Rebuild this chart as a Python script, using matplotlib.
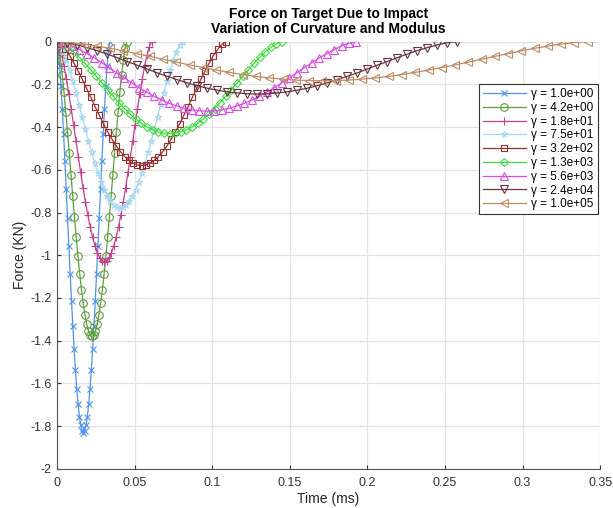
import numpy as np
import matplotlib
matplotlib.use("Agg")
import matplotlib.pyplot as plt

plt.rcParams['font.family'] = ['Liberation Sans', 'DejaVu Sans']

# curve labels (gamma), end times of contact (ms) and force samples (kN)
gammas = ['1.0e+00', '4.2e+00', '1.8e+01', '7.5e+01', '3.2e+02',
          '1.3e+03', '5.6e+03', '2.4e+04', '1.0e+05']
t_end = [0.034, 0.045, 0.061, 0.081, 0.109, 0.145, 0.193, 0.258, 0.342]

f1 = [0, -0.040, -0.113, -0.206, -0.314, -0.433, -0.560, -0.691, -0.825, -0.958, -1.088,
      -1.213, -1.332, -1.441, -1.539, -1.625, -1.697, -1.755, -1.796, -1.822, -1.830,
      -1.822, -1.796, -1.755, -1.697, -1.625, -1.539, -1.441, -1.332, -1.213, -1.088,
      -0.958, -0.825, -0.691, -0.560, -0.433, -0.314, -0.206, -0.113, -0.040, 0]
f2 = [0, -0.030, -0.085, -0.156, -0.237, -0.327, -0.422, -0.521, -0.622, -0.722, -0.821,
      -0.915, -1.004, -1.086, -1.161, -1.225, -1.280, -1.323, -1.355, -1.374, -1.380,
      -1.374, -1.355, -1.323, -1.280, -1.225, -1.161, -1.086, -1.004, -0.915, -0.821,
      -0.722, -0.622, -0.521, -0.422, -0.327, -0.237, -0.156, -0.085, -0.030, 0]
f3 = [0, -0.023, -0.064, -0.116, -0.177, -0.244, -0.315, -0.389, -0.464, -0.539, -0.612,
      -0.683, -0.750, -0.811, -0.866, -0.915, -0.955, -0.988, -1.011, -1.025, -1.030,
      -1.025, -1.011, -0.988, -0.955, -0.915, -0.866, -0.811, -0.750, -0.683, -0.612,
      -0.539, -0.464, -0.389, -0.315, -0.244, -0.177, -0.116, -0.064, -0.023, 0]
f4 = [0, -0.017, -0.048, -0.088, -0.134, -0.185, -0.239, -0.295, -0.352, -0.408, -0.464,
      -0.517, -0.568, -0.614, -0.656, -0.693, -0.723, -0.748, -0.766, -0.776, -0.780,
      -0.776, -0.766, -0.748, -0.723, -0.693, -0.656, -0.614, -0.568, -0.517, -0.464,
      -0.408, -0.352, -0.295, -0.239, -0.185, -0.134, -0.088, -0.048, -0.017, 0]
f5 = [0, -0.013, -0.036, -0.065, -0.100, -0.137, -0.177, -0.219, -0.261, -0.304, -0.345,
      -0.385, -0.422, -0.457, -0.488, -0.515, -0.538, -0.556, -0.569, -0.577, -0.580,
      -0.577, -0.569, -0.556, -0.538, -0.515, -0.488, -0.457, -0.422, -0.385, -0.345,
      -0.304, -0.261, -0.219, -0.177, -0.137, -0.100, -0.065, -0.036, -0.013, 0]
f6 = [0, -0.009, -0.027, -0.049, -0.074, -0.102, -0.132, -0.162, -0.194, -0.225, -0.256,
      -0.285, -0.313, -0.339, -0.362, -0.382, -0.399, -0.412, -0.422, -0.428, -0.430,
      -0.428, -0.422, -0.412, -0.399, -0.382, -0.362, -0.339, -0.313, -0.285, -0.256,
      -0.225, -0.194, -0.162, -0.132, -0.102, -0.074, -0.049, -0.027, -0.009, 0]
f7 = [0, -0.007, -0.020, -0.037, -0.056, -0.077, -0.099, -0.123, -0.146, -0.170, -0.193,
      -0.216, -0.237, -0.256, -0.273, -0.289, -0.301, -0.312, -0.319, -0.324, -0.325,
      -0.324, -0.319, -0.312, -0.301, -0.289, -0.273, -0.256, -0.237, -0.216, -0.193,
      -0.170, -0.146, -0.123, -0.099, -0.077, -0.056, -0.037, -0.020, -0.007, 0]
f8 = [0, -0.005, -0.015, -0.028, -0.042, -0.058, -0.075, -0.093, -0.110, -0.128, -0.146,
      -0.162, -0.178, -0.193, -0.206, -0.218, -0.227, -0.235, -0.240, -0.244, -0.245,
      -0.244, -0.240, -0.235, -0.227, -0.218, -0.206, -0.193, -0.178, -0.162, -0.146,
      -0.128, -0.110, -0.093, -0.075, -0.058, -0.042, -0.028, -0.015, -0.005, 0]
f9 = [0, -0.004, -0.011, -0.021, -0.031, -0.043, -0.056, -0.069, -0.082, -0.096, -0.109,
      -0.121, -0.133, -0.144, -0.154, -0.163, -0.170, -0.175, -0.180, -0.182, -0.183,
      -0.182, -0.180, -0.175, -0.170, -0.163, -0.154, -0.144, -0.133, -0.121, -0.109,
      -0.096, -0.082, -0.069, -0.056, -0.043, -0.031, -0.021, -0.011, -0.004, 0]
forces = [f1, f2, f3, f4, f5, f6, f7, f8, f9]

colors = ['#4C94EE', '#5E9E3E', '#C8408A', '#A6D8F2', '#992E2E',
          '#3DDB3D', '#DB4CE6', '#66333F', '#BE8C64']
markers = ['x', 'o', '+', '*', 's', 'D', '^', 'v', '<']
msizes = [4, 5.5, 6, 5, 4.5, 4, 5.5, 5.5, 5.5]

fig = plt.figure(figsize=(6.13, 5.08), dpi=100)
ax = fig.add_axes([0.093, 0.077, 0.886, 0.841])

for g, te, f, c, m, ms in zip(gammas, t_end, forces, colors, markers, msizes):
    t = np.linspace(0, te, len(f))
    ax.plot(t, f, color=c, marker=m, markersize=ms, markerfacecolor='none',
            markeredgewidth=0.8, linewidth=0.9, label='\u03b3 = ' + g)

ax.set_xlim(0, 0.35)
ax.set_ylim(-2, 0)
xt = [0, 0.05, 0.1, 0.15, 0.2, 0.25, 0.3, 0.35]
yt = [0, -0.2, -0.4, -0.6, -0.8, -1, -1.2, -1.4, -1.6, -1.8, -2]
ax.set_xticks(xt)
ax.set_xticklabels(['0', '0.05', '0.1', '0.15', '0.2', '0.25', '0.3', '0.35'])
ax.set_yticks(yt)
ax.set_yticklabels(['0', '-0.2', '-0.4', '-0.6', '-0.8', '-1', '-1.2', '-1.4',
                    '-1.6', '-1.8', '-2'])
ax.grid(True, color='#e3e3e3', linewidth=0.9)
ax.set_axisbelow(True)
for s in ['top', 'right']:
    ax.spines[s].set_visible(False)
for s in ['left', 'bottom']:
    ax.spines[s].set_color('#555555')
ax.tick_params(direction='in', length=3, colors='#333333', labelsize=9, pad=4)
ax.tick_params(axis='x', pad=6)

ax.set_xlabel('Time (ms)', fontsize=10, color='#262626', labelpad=2)
ax.set_ylabel('Force (KN)', fontsize=10, color='#262626', labelpad=2)
ax.set_title('Force on Target Due to Impact\nVariation of Curvature and Modulus',
             fontsize=10, fontweight='bold', pad=6, linespacing=1.15)

leg = ax.legend(loc='upper right', bbox_to_anchor=(598 / 613, 1 - 84 / 508),
                bbox_transform=fig.transFigure, fontsize=8.5, handlelength=3.6,
                labelspacing=0.15, borderpad=0.35, handletextpad=0.5,
                borderaxespad=0, fancybox=False, framealpha=1, edgecolor='#333333')
leg.get_frame().set_linewidth(0.8)

fig.savefig('out.png', dpi=100)
